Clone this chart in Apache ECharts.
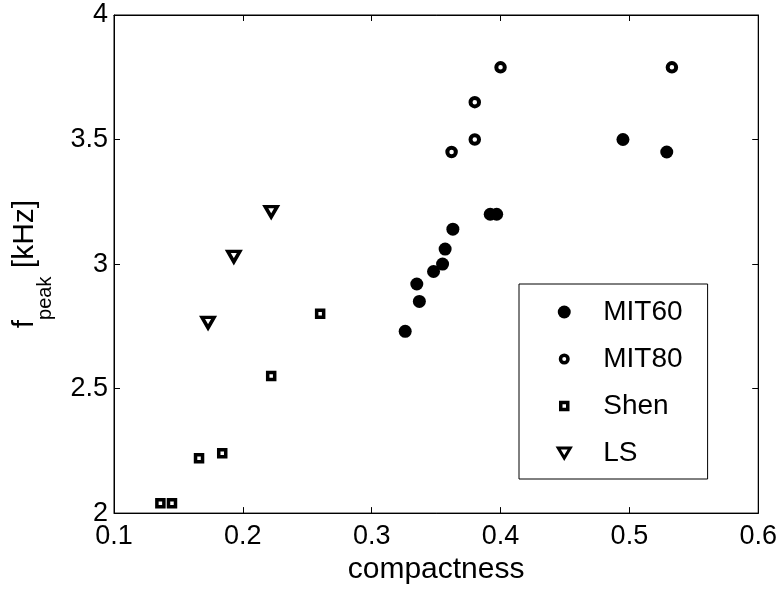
<!DOCTYPE html>
<html>
<head>
<meta charset="utf-8">
<script src="https://cdn.jsdelivr.net/npm/echarts@6/dist/echarts.min.js"></script>
<style>
html,body{margin:0;padding:0;background:#fff;}
#c{width:780px;height:590px;}
</style>
</head>
<body>
<div id="c"></div>
<script>
// Data
var mit60X = [0.326, 0.337, 0.335, 0.348, 0.355, 0.357, 0.363, 0.392, 0.397, 0.495, 0.529];
var mit60Y = [2.73, 2.85, 2.92, 2.97, 3.00, 3.06, 3.14, 3.20, 3.20, 3.50, 3.45];
var mit80X = [0.362, 0.380, 0.380, 0.400, 0.533];
var mit80Y = [3.45, 3.50, 3.65, 3.79, 3.79];
var shenX = [0.136, 0.145, 0.166, 0.184, 0.222, 0.260];
var shenY = [2.04, 2.04, 2.22, 2.24, 2.55, 2.80];
var lsX = [0.173, 0.193, 0.222];
var lsY = [2.765, 3.03, 3.21];
var seriesNames = ['MIT60', 'MIT80', 'Shen', 'LS'];
var xTicks = [0.1, 0.2, 0.3, 0.4, 0.5, 0.6];
var yTicks = [2, 2.5, 3, 3.5, 4];

function pairs(xs, ys) { return xs.map(function (x, i) { return [x, ys[i]]; }); }

var FONT = 'Liberation Sans';
var triDown = 'path://M0,0 L20,0 L10,17.32 Z';
// legend icons (13x13 frame so that every icon keeps its own size)
var icoOpenCircle = 'path://M0,0M13,13M2.75,6.5A3.75,3.75,0,1,1,10.25,6.5A3.75,3.75,0,1,1,2.75,6.5Z';
var icoSquare = 'path://M0,0M13,13M3,3L10,3L10,10L3,10Z';
var icoTri = 'path://M0,0M13,13M0.5,1.5L12.5,1.5L6.5,11.5Z';

var chart = echarts.init(document.getElementById('c'), null, {renderer: 'canvas'});
var axisCommon = {
  type: 'value',
  splitLine: {show: false},
  axisLine: {show: true, lineStyle: {color: '#000', width: 1}},
  axisTick: {show: true, inside: true, length: 6, lineStyle: {color: '#000', width: 1}}
};
chart.setOption({
  animation: false,
  backgroundColor: '#fff',
  grid: {left: 114, top: 15, right: 21, bottom: 68, show: true, borderColor: '#000', borderWidth: 1, backgroundColor: 'transparent'},
  xAxis: [
    Object.assign({}, axisCommon, {
      min: xTicks[0], max: xTicks[xTicks.length - 1], interval: 0.1, position: 'bottom',
      name: 'compactness', nameLocation: 'middle', nameGap: 38,
      nameTextStyle: {fontFamily: FONT, fontSize: 30, color: '#000', lineHeight: 30},
      axisLabel: {fontFamily: FONT, fontSize: 27, color: '#000', margin: 10,
        formatter: function (v) { return xTicks.indexOf(Math.round(v * 10) / 10) >= 0 ? (Math.round(v * 10) / 10).toString() : ''; }}
    }),
    Object.assign({}, axisCommon, {
      min: xTicks[0], max: xTicks[xTicks.length - 1], interval: 0.1, position: 'top',
      axisLabel: {show: false}
    })
  ],
  yAxis: [
    Object.assign({}, axisCommon, {
      min: yTicks[0], max: yTicks[yTicks.length - 1], interval: 0.5, position: 'left',
      name: '{m|f}{s|peak}{m| [kHz]}', nameLocation: 'middle', nameGap: 56, nameRotate: 90,
      nameTextStyle: {
        fontFamily: FONT, color: '#000',
        rich: {
          m: {fontFamily: FONT, fontSize: 30, lineHeight: 30, color: '#000', padding: [0, 0, 20, 0]},
          s: {fontFamily: FONT, fontSize: 20, lineHeight: 20, color: '#000', padding: [21, 0, 0, 0]}
        }
      },
      axisLabel: {fontFamily: FONT, fontSize: 27, color: '#000', margin: 6,
        formatter: function (v) { return String(v); }}
    }),
    Object.assign({}, axisCommon, {
      min: yTicks[0], max: yTicks[yTicks.length - 1], interval: 0.5, position: 'right',
      axisLabel: {show: false}
    })
  ],
  legend: {
    orient: 'vertical',
    left: 519, top: 284,
    padding: [13, 25, 11, 37],
    itemGap: 17,
    itemWidth: 68, itemHeight: 13,
    selectedMode: false,
    backgroundColor: '#fff',
    borderColor: '#000', borderWidth: 1, borderRadius: 0,
    textStyle: {fontFamily: FONT, fontSize: 28, color: '#000', lineHeight: 30},
    data: [
      {name: seriesNames[0], icon: 'circle', itemStyle: {color: '#000', borderWidth: 0}},
      {name: seriesNames[1], icon: icoOpenCircle, itemStyle: {color: '#fff', borderColor: '#000', borderWidth: 3.5}},
      {name: seriesNames[2], icon: icoSquare, itemStyle: {color: '#fff', borderColor: '#000', borderWidth: 3.5}},
      {name: seriesNames[3], icon: icoTri, itemStyle: {color: '#fff', borderColor: '#000', borderWidth: 3}}
    ]
  },
  series: [
    {name: seriesNames[0], type: 'scatter', data: pairs(mit60X, mit60Y), symbol: 'circle', symbolSize: 13,
      itemStyle: {color: '#000', opacity: 1}},
    {name: seriesNames[1], type: 'scatter', data: pairs(mit80X, mit80Y), symbol: 'circle', symbolSize: 8.5,
      itemStyle: {color: '#fff', borderColor: '#000', borderWidth: 4, opacity: 1}},
    {name: seriesNames[2], type: 'scatter', data: pairs(shenX, shenY), symbol: 'rect', symbolSize: 7,
      itemStyle: {color: '#fff', borderColor: '#000', borderWidth: 3.5, opacity: 1}},
    {name: seriesNames[3], type: 'scatter', data: pairs(lsX, lsY), symbol: triDown, symbolSize: [12, 10.4],
      itemStyle: {color: '#fff', borderColor: '#000', borderWidth: 3.5, borderJoin: 'miter', opacity: 1}}
  ]
});
</script>
</body>
</html>
